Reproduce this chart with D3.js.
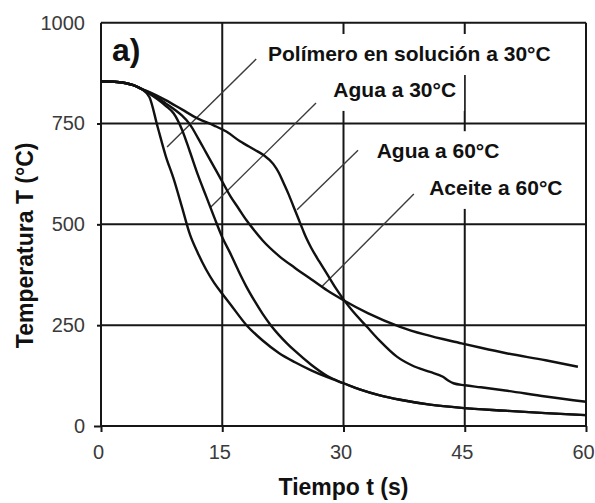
<!DOCTYPE html>
<html>
<head>
<meta charset="utf-8">
<script src="https://cdn.jsdelivr.net/npm/d3@7"></script>
<style>
  html, body { margin: 0; padding: 0; background: #fff; }
  svg { display: block; font-family: "Liberation Sans", Arial, Helvetica, sans-serif; }
</style>
</head>
<body>
<svg id="chart" width="595" height="503"></svg>
<script>
// Axis ticks
const xTicks = [0, 15, 30, 45, 60];
const yTicks = [0, 250, 500, 750, 1000];

// Cooling curves: time (s) and temperature (°C)
const polimeroTime = [0, 2, 4, 5, 6, 7, 8, 9, 10, 11, 12, 13, 14, 15, 16, 18, 20, 22, 24, 26, 28, 30, 32, 34.5, 37, 40.7, 44.6, 50, 55, 60];
const polimeroTemp = [855, 853, 845, 836, 815, 742, 670, 612, 544, 475, 428, 388, 355, 328, 302, 250, 212, 181, 158, 138, 121, 106, 91, 76, 65, 53, 45, 38, 32, 27];

const agua30Time = [0, 2, 4, 5, 6, 7, 8, 9, 10, 11, 12, 13, 14, 15, 16, 17, 18, 19, 20, 21, 22, 23, 24, 26, 28, 30, 32, 34.5, 37, 40.7, 44.6, 50, 55, 60];
const agua30Temp = [855, 853, 845, 836, 824, 810, 794, 775, 736, 680, 622, 570, 518, 468, 428, 385, 345, 310, 278, 250, 226, 205, 186, 152, 124, 106, 91, 76, 65, 53, 45, 38, 32, 27];

const agua60Time = [0, 2, 4, 5, 6, 8, 10, 12, 14, 15.5, 17.2, 19, 20.1, 21.3, 22, 22.6, 23.2, 23.8, 24.4, 25, 25.4, 26, 27, 27.9, 29, 30, 31, 32.9, 34.5, 36.6, 38.5, 40.7, 42.3, 43, 43.6, 45, 47, 50, 55, 60];
const agua60Temp = [855, 853, 845, 836, 828, 808, 785, 762, 745, 730, 706, 685, 672, 650, 628, 602, 575, 545, 515, 485, 466, 442, 408, 379, 343, 314, 288, 246, 211, 172, 150, 134, 122, 112, 106, 101, 96, 88, 73, 60];

const aceiteTime = [0, 2, 4, 5, 6, 7, 8, 9, 10, 11, 12, 13, 14, 15, 16, 17, 18, 19, 20, 22, 24, 26, 28, 30, 33, 37, 40, 44.6, 47, 50, 55, 59];
const aceiteTemp = [855, 853, 845, 836, 826, 814, 800, 786, 770, 748, 714, 678, 642, 606, 570, 540, 510, 484, 460, 422, 392, 364, 336, 312, 280, 246, 227, 205, 194, 181, 163, 147];

// Curve labels, their anchor (time, temperature) and leader lines (from, to)
const labelNames = ["Polímero en solución a 30°C", "Agua a 30°C", "Agua a 60°C", "Aceite a 60°C"];
const labelTime = [20.66, 28.74, 34.1, 40.6];
const labelTemp = [905, 816, 664, 573];
const leaderFrom = [[19.2, 910], [26.6, 801], [31.8, 684], [38.7, 575]];
const leaderTo = [[8.17, 692], [13.5, 541], [24.25, 536], [27.3, 345]];

const panelTag = "a)";
const xTitle = "Tiempo t (s)";
const yTitle = "Temperatura T (°C)";

(function draw() {
  const svg = d3.select("#chart");
  const plotLeft = 101, plotRight = 586, plotTop = 22.7, plotBottom = 426;

  const x = d3.scaleLinear().domain([0, 60]).range([plotLeft, plotRight]);
  const y = d3.scaleLinear().domain([0, 1000]).range([plotBottom, plotTop]);

  const ink = "#161616";

  // Grid lines and frame
  const grid = svg.append("g").attr("stroke", ink).attr("stroke-width", 2).attr("fill", "none");
  yTicks.forEach(v => {
    grid.append("line").attr("x1", x(0)).attr("x2", x(60)).attr("y1", y(v)).attr("y2", y(v));
  });
  xTicks.forEach(v => {
    grid.append("line").attr("x1", x(v)).attr("x2", x(v)).attr("y1", y(0)).attr("y2", y(1000));
  });

  // Axes (ticks and numbers)
  const xAxis = svg.append("g")
    .attr("transform", `translate(0,${plotBottom})`)
    .call(d3.axisBottom(x).tickValues(xTicks).tickFormat(d3.format("d"))
      .tickSize(6).tickPadding(13).tickSizeOuter(0));
  const yAxis = svg.append("g")
    .attr("transform", `translate(${plotLeft},0)`)
    .call(d3.axisLeft(y).tickValues(yTicks).tickFormat(d3.format("d"))
      .tickSize(4).tickPadding(12).tickSizeOuter(0));
  [xAxis, yAxis].forEach(g => {
    g.select(".domain").remove();
    g.selectAll(".tick line").attr("stroke", ink).attr("stroke-width", 2);
    g.selectAll(".tick text")
      .attr("fill", "#3a3a3a")
      .style("font-size", "20px")
      .style("font-family", "'Liberation Sans', Arial, sans-serif");
  });
  xAxis.selectAll(".tick text").attr("dx", "-3");
  yAxis.selectAll(".tick").filter(d => d === 0).select("line").attr("x2", -7);
  yAxis.selectAll(".tick").filter(d => d === 1000).select("line").remove();

  // White boxes behind the labels, then leader lines, curves and label text
  const boxGroup = svg.append("g");
  const leaders = svg.append("g").attr("stroke", "#3c3c3c").attr("stroke-width", 1.4);
  const curves = svg.append("g");
  const labelGroup = svg.append("g");

  const labelNodes = labelNames.map((name, i) =>
    labelGroup.append("text")
      .attr("x", x(labelTime[i]))
      .attr("y", y(labelTemp[i]))
      .attr("fill", "#111")
      .style("font-size", "21px")
      .style("font-weight", "bold")
      .text(name)
  );
  labelNodes.forEach(node => {
    const b = node.node().getBBox();
    boxGroup.append("rect")
      .attr("x", b.x - 6)
      .attr("y", b.y - 8)
      .attr("width", b.width + 14)
      .attr("height", b.height + 18)
      .attr("fill", "#fff");
  });

  leaderFrom.forEach((p, i) => {
    leaders.append("line")
      .attr("x1", x(p[0])).attr("y1", y(p[1]))
      .attr("x2", x(leaderTo[i][0])).attr("y2", y(leaderTo[i][1]));
  });

  const line = d3.line()
    .x(d => x(d[0]))
    .y(d => y(d[1]))
    .curve(d3.curveMonotoneX);
  const series = [
    [polimeroTime, polimeroTemp],
    [agua30Time, agua30Temp],
    [agua60Time, agua60Temp],
    [aceiteTime, aceiteTemp]
  ];
  curves.selectAll("path")
    .data(series)
    .join("path")
    .attr("d", s => line(s[0].map((t, i) => [t, s[1][i]])))
    .attr("fill", "none")
    .attr("stroke", "#111")
    .attr("stroke-width", 2.4)
    .attr("stroke-linejoin", "round");

  // Panel tag
  svg.append("text")
    .attr("x", 112)
    .attr("y", 61)
    .attr("fill", "#111")
    .style("font-size", "32px")
    .style("font-weight", "bold")
    .text(panelTag);

  // Axis titles
  svg.append("text")
    .attr("x", (plotLeft + plotRight) / 2)
    .attr("y", 495)
    .attr("text-anchor", "middle")
    .attr("fill", "#111")
    .style("font-size", "23px")
    .style("font-weight", "bold")
    .text(xTitle);

  svg.append("text")
    .attr("transform", `translate(33,${(plotTop + plotBottom) / 2 + 21}) rotate(-90)`)
    .attr("text-anchor", "middle")
    .attr("fill", "#111")
    .style("font-size", "23px")
    .style("font-weight", "bold")
    .text(yTitle);
})();
</script>
</body>
</html>
